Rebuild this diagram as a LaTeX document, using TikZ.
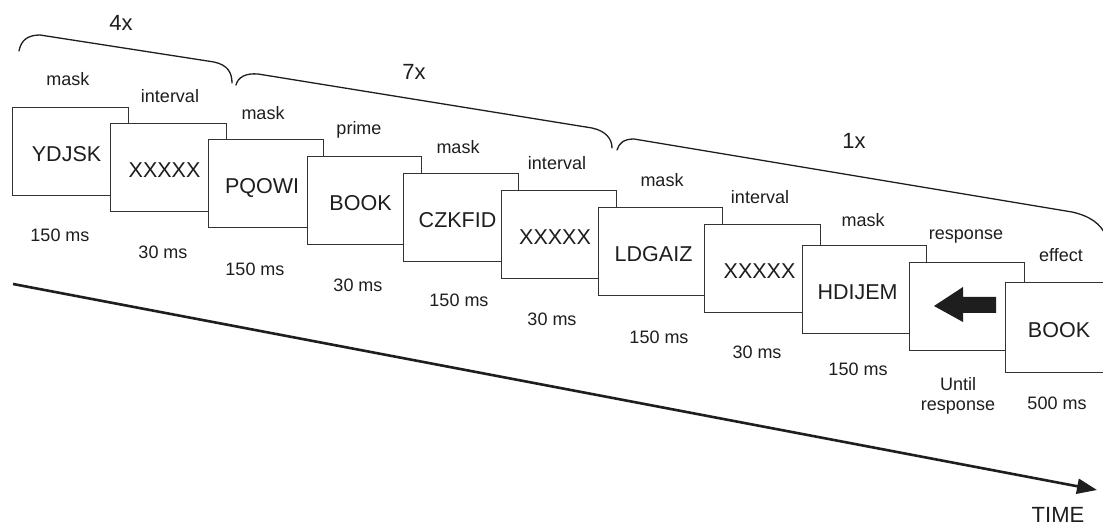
\documentclass[tikz,border=0pt]{standalone}
\usepackage{fontspec}
\setmainfont{Liberation Sans}
\usetikzlibrary{arrows.meta}
\definecolor{ink}{HTML}{1E1E1E}
\definecolor{edge}{HTML}{333333}
\begin{document}
\begin{tikzpicture}[x=1pt,y=-1pt,
  stim/.style={draw=edge, line width=1.1pt, fill=white, anchor=north west, inner sep=0pt,
    minimum height=88pt, font=\fontsize{21.5}{24}\selectfont, text=ink,
    text height=19.4pt, text depth=0pt},
  lab/.style={font=\fontsize{18}{20}\selectfont, text=ink, inner sep=0pt},
  rep/.style={font=\fontsize{22}{24}\selectfont, text=ink, inner sep=0pt},
  brace/.style={draw=ink, line width=1.3pt, line cap=round},
  timeline/.style={draw=ink, line width=2.6pt, -{Triangle[length=20pt,width=15pt]}}]
\clip (0,0) rectangle (1103,526);
\fill[white] (0,0) rectangle (1103,526);

% braces
\draw[brace] (19,51) .. controls (21,40) and (28,35) .. (40,35) -- (214,62) .. controls (228,65) and (232,73) .. (232,83);
\draw[brace] (236,85) .. controls (238,77) and (246,73) .. (258,74) -- (592,128) .. controls (606,131) and (612,139) .. (612,148);
\draw[brace] (617,150) .. controls (619,143) and (624,139) .. (634,139) -- (1072,212) .. controls (1090,216) and (1101,224) .. (1106,236);
\node[rep] (r4) at (121,23) {4x};
\node[rep] (r7) at (414,72) {7x};
\node[rep] (r1) at (854,141) {1x};

% stimulus screens
\node[stim, minimum width=116pt] (b1) at (12,107) {YDJSK\kern8pt};
\node[stim, minimum width=116pt] (b2) at (110,123) {XXXXX\kern8pt};
\node[stim, minimum width=115pt] (b3) at (208,139) {PQOWI\kern8pt};
\node[stim, minimum width=114pt] (b4) at (307,156) {BOOK\kern8pt};
\node[stim, minimum width=115pt] (b5) at (403,173) {CZKFID\kern7pt};
\node[stim, minimum width=115pt] (b6) at (501,190) {XXXXX\kern8pt};
\node[stim, minimum width=124pt] (b7) at (598,207) {LDGAIZ\kern14pt};
\node[stim, minimum width=116pt] (b8) at (704,224) {XXXXX\kern6pt};
\node[stim, minimum width=124pt] (b9) at (802,245) {HDIJEM\kern14pt};
\node[stim, minimum width=115pt] (b10) at (909,262) {};
\fill[ink] (934,306) -- (963,287) -- (963,297) -- (996,297) -- (996,313) -- (963,313) -- (963,322) -- cycle;
\node[stim, minimum width=115pt, minimum height=90pt] (b11) at (1005,282) {BOOK\kern8pt};

% labels above
\node[lab] (a1) at (68,79) {mask};
\node[lab] (a2) at (170,96) {interval};
\node[lab] (a3) at (263,113) {mask};
\node[lab] (a4) at (359,130) {prime};
\node[lab] (a5) at (458,147) {mask};
\node[lab] (a6) at (557,163) {interval};
\node[lab] (a7) at (662,180) {mask};
\node[lab] (a8) at (760,197) {interval};
\node[lab] (a9) at (863,220) {mask};
\node[lab] (a10) at (966,237) {response};
\node[lab] (a11) at (1061,255) {effect};

% durations below
\node[lab] (d1) at (60,235) {150 ms};
\node[lab] (d2) at (163,252) {30 ms};
\node[lab] (d3) at (255,269) {150 ms};
\node[lab] (d4) at (358,285) {30 ms};
\node[lab] (d5) at (459,300) {150 ms};
\node[lab] (d6) at (552,319) {30 ms};
\node[lab] (d7) at (659,337) {150 ms};
\node[lab] (d8) at (757,352) {30 ms};
\node[lab] (d9) at (858,369) {150 ms};
\node[lab, align=center] (d10) at (958,396) {Until\\response};
\node[lab] (d11) at (1057,403) {500 ms};

% time axis
\coordinate (t0) at (13,284);
\coordinate (t1) at (1097,490);
\draw[timeline] (t0) -- (t1);
\node[rep] (time) at (1058,515) {TIME};
\end{tikzpicture}
\end{document}
